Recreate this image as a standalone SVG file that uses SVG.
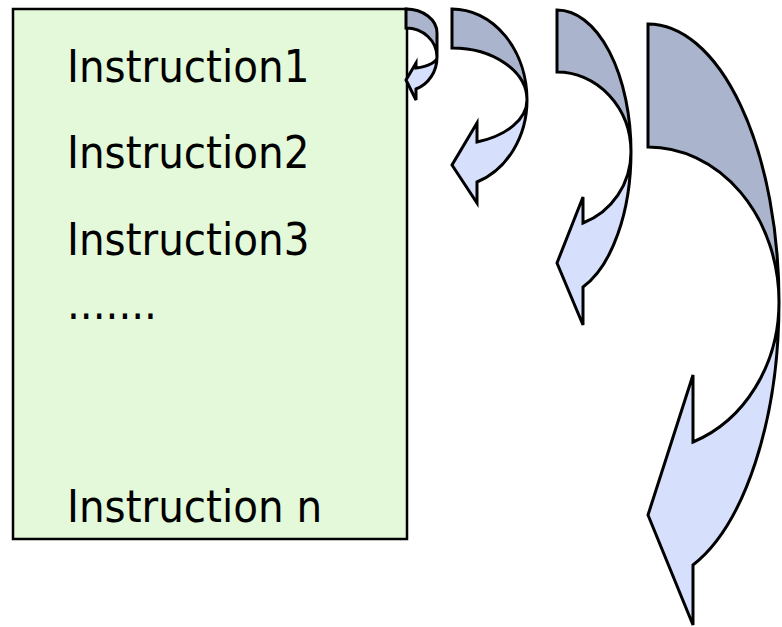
<svg xmlns="http://www.w3.org/2000/svg" width="782" height="627" viewBox="0 0 782 627">
  <style>
    .box { fill: #e4f9d9; stroke: #000; stroke-width: 2.5; }
    .label { font-family: "DejaVu Sans Condensed", "DejaVu Sans", sans-serif; font-size: 45px; fill: #000; }
    .back { fill: #aab4cc; stroke: #000; stroke-width: 3; stroke-linejoin: miter; }
    .front { fill: #d6e0fc; stroke: #000; stroke-width: 3; stroke-linejoin: miter; }
  </style>
  <rect width="782" height="627" fill="#fff"/>

  <!-- instruction list -->
  <g id="instructions">
    <rect class="box" x="13" y="9" width="394" height="530"/>
    <text class="label" x="67" y="82">Instruction1</text>
    <text class="label" x="67" y="168">Instruction2</text>
    <text class="label" x="67" y="255">Instruction3</text>
    <text class="label" x="67" y="319">.......</text>
    <text class="label" x="67" y="522">Instruction n</text>
  </g>

  <!-- curved jump arrows, each bending back toward the list -->
  <g id="connectors">
    <g id="jump1">
      <path class="back" d="M406,9 A31,24 0 0 1 437,33 L437,57 A31,29 0 0 0 406,28 Z"/>
      <path class="front" d="M437,57 A31,33.8 0 0 1 416,89 L416,100 L406,80 L416,63 L416,68 A31,11.6 0 0 0 437,57 Z"/>
    </g>
    <g id="jump2">
      <path class="back" d="M452,9 A75,91 0 0 1 527,100 A75,52 0 0 0 452,48 Z"/>
      <path class="front" d="M527,100 A75,87 0 0 1 477,182 L477,203 L452,165 L477,123 L477,142 A75,44.5 0 0 0 527,100 Z"/>
    </g>
    <g id="jump3">
      <path class="back" d="M557,10 A74,142 0 0 1 631,152 A74,80 0 0 0 557,72 Z"/>
      <path class="front" d="M631,152 A74,144.2 0 0 1 583,287 L583,325 L557,263 L583,197 L583,223 A74,75.8 0 0 0 631,152 Z"/>
    </g>
    <g id="jump4">
      <path class="back" d="M648,24 A131,278 0 0 1 779,302 A131,155 0 0 0 648,147 Z"/>
      <path class="front" d="M779,302 A131,280 0 0 1 693,565 L693,625 L648,515 L693,375 L693,442 A131,149 0 0 0 779,302 Z"/>
    </g>
  </g>
</svg>
